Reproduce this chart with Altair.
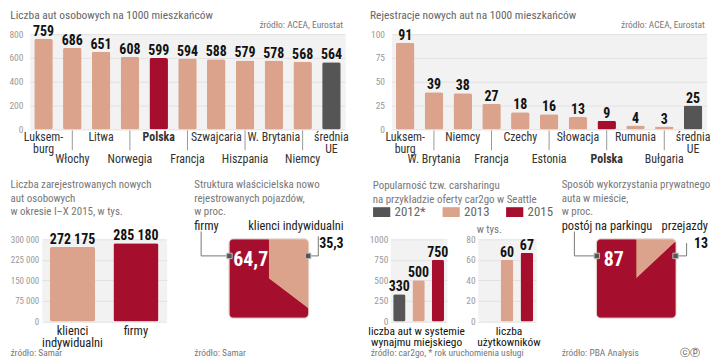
import json
import altair as alt
import pandas as pd

# ------------------------------------------------------------------ data
cars_labels = ["Luksem-|burg", "Włochy", "Litwa", "Norwegia", "Polska", "Francja",
               "Szwajcaria", "Hiszpania", "W. Brytania", "Niemcy", "średnia|UE"]
cars_values = [759, 686, 651, 608, 599, 594, 588, 579, 578, 568, 564]
cars_ticks = [0, 200, 400, 600, 800]

reg_labels = ["Luksem-|burg", "W. Brytania", "Niemcy", "Francja", "Czechy", "Estonia",
              "Słowacja", "Polska", "Rumunia", "Bułgaria", "średnia|UE"]
reg_values = [91, 39, 38, 27, 18, 16, 13, 9, 4, 3, 25]
reg_ticks = [0, 25, 50, 75, 100]

new_labels = ["klienci|indywidualni", "firmy"]
new_values = [272175, 285180]
new_ticks = [0, 75000, 150000, 225000, 300000]

own_labels = ["klienci indywidualni", "firmy"]
own_values = [35.3, 64.7]

years = ["2012*", "2013", "2015"]
fleet_values = [330, 500, 750]
fleet_ticks = [0, 250, 500, 750, 1000]
users_years = ["2013", "2015"]
users_values = [60, 67]
users_ticks = [0, 20, 40, 60, 80]

use_labels = ["przejazdy", "postój na parkingu"]
use_values = [13, 87]

# ------------------------------------------------------------------ style
RED = "#a50f2d"
LIGHT = "#dba28c"
DARK = "#555555"
BG = "#f2f2f2"
GRID = "#e2e2e2"
FONT = "Liberation Sans Narrow, 'Roboto Condensed', 'DejaVu Sans Condensed', Roboto, sans-serif"
ONE = pd.DataFrame({"k": [0]})
TITLE_SIZE = 11
NUM_SIZE = 14
SRC_Y = 114.8


def txt(text, x, y, size=12, color="#666", align="left", baseline="middle",
        weight="normal", lh=None, font=FONT):
    kw = dict(text=text, align=align, baseline=baseline, fontSize=size,
              color=color, fontWeight=weight, font=font)
    if lh:
        kw["lineHeight"] = lh
    return alt.Chart(ONE).mark_text(**kw).encode(x=alt.value(x), y=alt.value(y))


def seg(x, y, x2, y2):
    return alt.Chart(ONE).mark_rule(color="#777", strokeWidth=1).encode(
        x=alt.value(x), y=alt.value(y), x2=alt.value(x2), y2=alt.value(y2))


def marker(x, y):
    return alt.Chart(ONE).mark_point(shape="square", filled=True, size=30, color="#555",
                                     opacity=1, stroke="#bbb", strokeWidth=1).encode(
        x=alt.value(x), y=alt.value(y))


def spacer(w):
    return alt.Chart(ONE).mark_point(opacity=0).encode(
        x=alt.value(0), y=alt.value(0)).properties(
        width=w, height=10, view=alt.ViewBackground(strokeOpacity=0, fillOpacity=0))


def yaxis(ticks, pad, size=9.5, expr=None):
    kw = dict(values=ticks, title=None, domain=False, ticks=False, labelFont=FONT,
              labelFontSize=size, labelColor="#999", labelPadding=pad, gridColor=GRID,
              format="d")
    if expr:
        kw["labelExpr"] = expr
    return alt.Axis(**kw)


def value_text(base, x, y, text="value:Q"):
    return base.mark_text(baseline="alphabetic", dy=-3, font=FONT, fontSize=NUM_SIZE,
                          fontWeight="bold", color="#111").encode(x=x, y=y, text=text)


# ------------------------------------------------------------------ top charts
TW, TH = 317.5, 96


def top_chart(labels, values, ymax, ticks, title, title_dx):
    colors = [RED if "Polska" in l else DARK if "UE" in l else LIGHT for l in labels]
    lower = [i % 2 == 1 for i in range(len(labels))]
    lower_names = [l for l, lo in zip(labels, lower) if lo]
    df = pd.DataFrame({"label": labels, "value": values, "color": colors, "lower": lower})
    test_lower = "indexof(%s, datum.value) >= 0" % json.dumps(lower_names, ensure_ascii=False)
    x = alt.X("label:N", sort=None,
              scale=alt.Scale(domain=labels, paddingInner=0.356, paddingOuter=0.153),
              axis=alt.Axis(title=None, labelExpr="split(datum.label, '|')", labelAngle=0,
                            domain=False, ticks=False, labelFont=FONT,
                            labelPadding={"condition": {"test": test_lower, "value": 24}, "value": 2},
                            labelFontSize=12, labelColor="#333", labelLineHeight=12,
                            labelOverlap=False, labelBound=False,
                            labelFontWeight={"condition": {"test": "datum.value == 'Polska'",
                                                           "value": "bold"}, "value": "normal"}))
    y = alt.Y("value:Q", scale=alt.Scale(domain=[0, ymax], nice=False),
              axis=yaxis(ticks, 7, 9.5))
    base = alt.Chart(df)
    bars = base.mark_bar(cornerRadius=2).encode(x=x, y=y, color=alt.Color("color:N", scale=None))
    rules = base.transform_filter("datum.lower").mark_rule(color="#999", strokeWidth=1).encode(
        x=x, y=alt.value(TH + 1), y2=alt.value(TH + 21))
    return alt.layer(
        bars, value_text(base, x, y), rules,
        txt(title, title_dx, -23.8, size=11.5, color="#666", baseline="top"),
        txt("źródło: ACEA, Eurostat", 315.5, -8.9, size=9.5, color="#777", align="right"),
    ).properties(width=TW, height=TH,
                 view=alt.ViewBackground(fill=BG, stroke="transparent", cornerRadius=3))


topL = top_chart(cars_labels, cars_values, 800, cars_ticks,
                 "Liczba aut osobowych na 1000 mieszkańców", -19.7)
topR = top_chart(reg_labels, reg_values, 100, reg_ticks,
                 "Rejestracje nowych aut na 1000 mieszkańców", -21.6)

# ------------------------------------------------------------------ bottom: new registrations
BH = 82.7
df1 = pd.DataFrame({"label": new_labels, "value": new_values, "color": [LIGHT, RED]})
x1 = alt.X("label:N", sort=None,
           scale=alt.Scale(domain=new_labels, paddingInner=0.29, paddingOuter=0.13),
           axis=alt.Axis(title=None, labelExpr="split(datum.label, '|')", labelAngle=0,
                         domain=False, ticks=False, labelPadding=3, labelFont=FONT,
                         labelFontSize=12.5, labelColor="#222", labelLineHeight=12))
y1 = alt.Y("value:Q", scale=alt.Scale(domain=[0, 300000], nice=False),
           axis=yaxis(new_ticks, 3, 9, "replace(format(datum.value, ','), ',', ' ')"))
b1 = alt.Chart(df1)
p1 = alt.layer(
    b1.mark_bar(cornerRadius=2).encode(x=x1, y=y1, color=alt.Color("color:N", scale=None)),
    value_text(b1.transform_calculate(t="replace(format(datum.value, ','), ',', ' ')"),
               x1, y1, "t:N"),
    txt(["Liczba zarejestrowanych nowych", "aut osobowych", "w okresie I–X 2015, w tys."],
        -31.5, -60.8, size=TITLE_SIZE, color="#777", baseline="top", lh=13.8),
    txt("źródło: Samar", -31.5, SRC_Y, size=9.5, color="#777"),
).properties(width=125.8, height=BH,
             view=alt.ViewBackground(fill=BG, stroke="transparent", cornerRadius=3))


# ------------------------------------------------------------------ square pies
SQ = 79.3


def square_pie(labels, values, fmt, title, vline_x, rline_x, rline_top, big_x, right_x,
               source, extra=None):
    df = pd.DataFrame({"label": labels, "value": values, "order": [0, 1], "color": [LIGHT, RED]})
    base = alt.Chart(df)
    arc = base.mark_arc(clip=True, outerRadius=57).encode(
        theta=alt.Theta("value:Q", stack=True),
        color=alt.Color("color:N", scale=None),
        order=alt.Order("order:Q"))
    fmt_expr = "replace(format(datum.value, '%s'), '.', ',')" % fmt
    big = base.transform_filter("datum.order == 1").transform_calculate(t=fmt_expr).mark_text(
        align="left", baseline="middle", font=FONT, fontSize=20, fontWeight="bold", color="white"
    ).encode(text="t:N", x=alt.value(big_x), y=alt.value(21.2))
    small = base.transform_filter("datum.order == 0").transform_calculate(t=fmt_expr).mark_text(
        align="right", baseline="middle", font=FONT, fontSize=NUM_SIZE, fontWeight="bold", color="#111"
    ).encode(text="t:N", x=alt.value(right_x), y=alt.value(4.9))
    lab_l = base.transform_filter("datum.order == 1").mark_text(
        align="left", baseline="middle", font=FONT, fontSize=12.5, color="#222"
    ).encode(text="label:N", x=alt.value(-35.4), y=alt.value(-13.8))
    lab_r = base.transform_filter("datum.order == 0").mark_text(
        align="right", baseline="middle", font=FONT, fontSize=12.5, color="#222"
    ).encode(text="label:N", x=alt.value(right_x), y=alt.value(-13.8))
    layers = [arc, big, small, lab_l, lab_r,
              seg(vline_x, -7.9, vline_x, 16.7), seg(vline_x, 16.7, 0, 16.7),
              seg(SQ, 16.7, rline_x, 16.7), seg(rline_x, 16.7, rline_x, rline_top),
              marker(0, 16.7), marker(SQ, 16.7),
              txt(title, -35.4, -60.8, size=TITLE_SIZE, color="#777", baseline="top", lh=13.8),
              txt(source, -35.4, SRC_Y, size=9.5, color="#777")]
    if extra is not None:
        layers.append(extra)
    return alt.layer(*layers).properties(
        width=SQ, height=79,
        view=alt.ViewBackground(fill=RED, stroke="#e6d3cd", strokeWidth=2, cornerRadius=4))


p2 = square_pie(own_labels, own_values, ".1f",
                ["Struktura właścicielska nowo", "rejestrowanych pojazdów,", "w proc."],
                -28.5, 89.5, -3, 3.9, 115.0, "źródło: Samar")
p4 = square_pie(use_labels, use_values, "d",
                ["Sposób wykorzystania prywatnego", "auta w mieście,", "w proc."],
                -22.6, 90.4, 3.9, 6.9, 112.0, "źródło: PBA Analysis",
                extra=txt("ⓒⓟ", 104.0, SRC_Y, size=10.5, color="#555", align="right",
                          font="DejaVu Sans"))

# ------------------------------------------------------------------ carsharing
df3a = pd.DataFrame({"year": years, "value": fleet_values})
x3 = alt.X("year:N", sort=None, scale=alt.Scale(domain=years, paddingInner=0.36, paddingOuter=0.15),
           axis=None)
y3a = alt.Y("value:Q", scale=alt.Scale(domain=[0, 1000], nice=False), axis=yaxis(fleet_ticks, 2.5, 9.5))
b3a = alt.Chart(df3a)
p3a = alt.layer(
    b3a.mark_bar(cornerRadius=2).encode(
        x=x3, y=y3a,
        color=alt.Color("year:N", scale=alt.Scale(domain=years, range=[DARK, LIGHT, RED]),
                        legend=alt.Legend(orient="none", legendX=-17.7, legendY=-36.4,
                                          direction="horizontal", title=None,
                                          symbolType="M-1,-0.57H1V0.57H-1Z", symbolSize=300,
                                          symbolStrokeWidth=0, labelFont=FONT, labelFontSize=13,
                                          labelColor="#666", columnPadding=16, labelOffset=4))),
    value_text(b3a, x3, y3a),
    txt(["Popularność tzw. carsharingu", "na przykładzie oferty car2go w Seattle"],
        -17.7, -59.8, size=TITLE_SIZE, color="#777", baseline="top", lh=13.8),
    txt(["liczba aut w systemie", "wynajmu miejskiego"], 26.5, 87.5, size=11.5, color="#111",
        align="center", baseline="top", lh=11),
    txt("źródło: car2go, * rok uruchomienia usługi", -19.7, SRC_Y, size=9.5, color="#777"),
).properties(width=57, height=BH,
             view=alt.ViewBackground(fill=BG, stroke="transparent", cornerRadius=3))

df3b = pd.DataFrame({"year": users_years, "value": users_values,
                     "color": [LIGHT, RED]})
y3b = alt.Y("value:Q", scale=alt.Scale(domain=[0, 80], nice=False), axis=yaxis(users_ticks, 2.5, 9.5))
b3b = alt.Chart(df3b)
p3b = alt.layer(
    b3b.mark_bar(cornerRadius=2).encode(x=x3, y=y3b, color=alt.Color("color:N", scale=None)),
    value_text(b3b, x3, y3b),
    txt("w tys.", -1, -8.9, size=11, color="#777"),
    txt(["liczba", "użytkowników"], 31.5, 87.5, size=11.5, color="#111",
        align="center", baseline="top", lh=11),
).properties(width=59, height=BH,
             view=alt.ViewBackground(fill=BG, stroke="transparent", cornerRadius=3))

# ------------------------------------------------------------------ layout
top = alt.hconcat(topL, topR, spacing=46.2, bounds="flush")
bottom = alt.hconcat(spacer(11.8), p1, spacer(62.9), p2, spacer(81.9), p3a, spacer(30.5),
                     p3b, spacer(60.9), p4, spacing=0, bounds="flush").resolve_scale(
    color="independent").resolve_legend(color="independent")

chart = alt.vconcat(top, bottom, spacing=12.7, padding=0).resolve_scale(
    color="independent").resolve_legend(color="independent").configure(font=FONT)

chart.save("out.html", embed_options={"renderer": "svg", "actions": False})
